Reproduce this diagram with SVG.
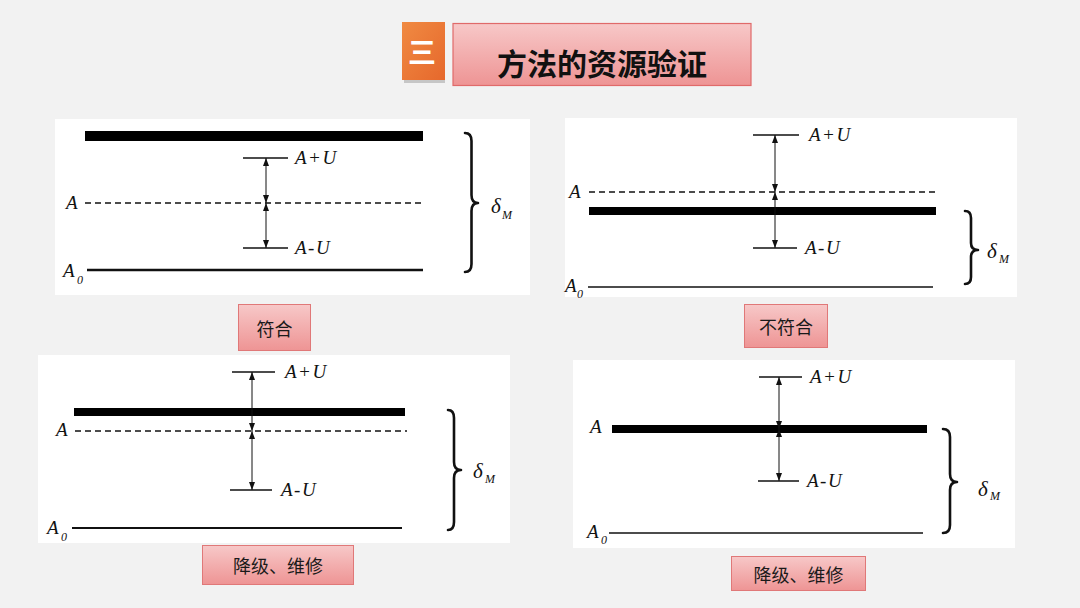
<svg xmlns="http://www.w3.org/2000/svg" width="1080" height="608" viewBox="0 0 1080 608">
<style>
.math{font-family:"Liberation Serif","Times New Roman",serif;font-style:italic;fill:#111;}
.big{font-size:19px;letter-spacing:1.5px;}
.sub{font-size:12px;}
.delta{font-size:21px;}
.cn{font-family:"Noto Sans CJK SC","Noto Sans",sans-serif;font-size:18px;fill:#1a1a1a;text-anchor:middle;dominant-baseline:central;}
.panel{fill:#ffffff;}
.tick{stroke:#111;stroke-width:1.6;}
.dash{stroke:#111;stroke-width:1.6;stroke-dasharray:6 4;fill:none;}
.arr{stroke:#111;stroke-width:1;marker-start:url(#ah);marker-end:url(#ah);}
.brace{fill:none;stroke:#111;stroke-width:2.6;stroke-linecap:round;stroke-linejoin:round;}
.lbl{fill:url(#pink);stroke:#e07878;stroke-width:1;}
</style>
<defs>
<linearGradient id="pink" x1="0" y1="0" x2="0" y2="1">
<stop offset="0" stop-color="#f7c8c8"/>
<stop offset="1" stop-color="#ee9494"/>
</linearGradient>
<linearGradient id="orange" x1="0" y1="0" x2="1" y2="1">
<stop offset="0" stop-color="#f08a42"/>
<stop offset="1" stop-color="#e6682c"/>
</linearGradient>
<marker id="ah" viewBox="0 0 8 6" refX="8" refY="3" markerWidth="8" markerHeight="6" markerUnits="userSpaceOnUse" orient="auto-start-reverse">
<path d="M0,0 L8,3 L0,6 z" fill="#111"/>
</marker>
</defs>
<rect x="0" y="0" width="1080" height="608" fill="#f2f2f2"/>

<g id="title">
<rect x="404" y="78" width="41" height="5" fill="#9a9a9a" opacity="0.5"/>
<rect x="402" y="22" width="43" height="58" fill="url(#orange)"/>
<text x="422" y="51" font-family="Noto Sans CJK SC,sans-serif" font-size="28" font-weight="bold" fill="#ffffff" text-anchor="middle" dominant-baseline="central">三</text>
<rect x="453" y="23.5" width="298" height="62" fill="url(#pink)" stroke="#e06a6a" stroke-width="1.2"/>
<text x="602" y="62" font-family="Noto Sans CJK SC,sans-serif" font-size="30" font-weight="bold" fill="#111" text-anchor="middle" dominant-baseline="central">方法的资源验证</text>
</g>

<g id="panel1">
<rect class="panel" x="55" y="119" width="475" height="176"/>
<rect x="85" y="131" width="338" height="10" fill="#000"/>
<line class="tick" x1="243" y1="158" x2="288" y2="158"/>
<line class="dash" x1="85" y1="203" x2="425" y2="203"/>
<line class="tick" x1="243" y1="248" x2="288" y2="248"/>
<line x1="87" y1="270" x2="423" y2="270" stroke="#111" stroke-width="2.6"/>
<text class="math big" x="295" y="164">A+U</text>
<text class="math big" x="295" y="254">A-U</text>
<text class="math big" x="66" y="209">A</text>
<text class="math big" x="63" y="277">A</text>
<text class="math sub" x="77" y="284">0</text>
<path class="brace" d="M465,133 Q471.5,133 471.5,141 L471.5,195 Q471.5,203 478,203 Q471.5,203 471.5,211 L471.5,264 Q471.5,272 465,272"/>
<text class="math delta" x="491" y="213">δ</text>
<text class="math sub" x="502" y="219">M</text>
</g>

<g id="panel2">
<rect class="panel" x="565" y="118" width="452" height="179"/>
<line class="tick" x1="753" y1="135" x2="799" y2="135"/>
<line class="dash" x1="589" y1="192" x2="937" y2="192"/>
<rect x="589" y="207" width="347" height="8" fill="#000"/>
<line class="tick" x1="753" y1="248" x2="797" y2="248"/>
<line x1="588" y1="287" x2="933" y2="287" stroke="#111" stroke-width="1.5"/>
<text class="math big" x="809" y="141">A+U</text>
<text class="math big" x="805" y="254">A-U</text>
<text class="math big" x="569" y="198">A</text>
<text class="math big" x="565" y="292">A</text>
<text class="math sub" x="577" y="298">0</text>
<path class="brace" d="M965,211 Q971,211 971,218 L971,243 Q971,250 978,250 Q971,250 971,257 L971,277 Q971,284 965,284"/>
<text class="math delta" x="987" y="258">δ</text>
<text class="math sub" x="999" y="263">M</text>
</g>

<g id="panel3">
<rect class="panel" x="38" y="355" width="472" height="188"/>
<line class="tick" x1="232" y1="372" x2="275" y2="372"/>
<rect x="74" y="408" width="331" height="8" fill="#000"/>
<line class="dash" x1="75" y1="431" x2="407" y2="431"/>
<line class="tick" x1="230" y1="490" x2="272" y2="490"/>
<line x1="72" y1="528" x2="402" y2="528" stroke="#111" stroke-width="2"/>
<text class="math big" x="285" y="378">A+U</text>
<text class="math big" x="281" y="496">A-U</text>
<text class="math big" x="56" y="436">A</text>
<text class="math big" x="47" y="534">A</text>
<text class="math sub" x="61" y="541">0</text>
<path class="brace" d="M448,410 Q454,410 454,418 L454,462 Q454,470 461,470 Q454,470 454,478 L454,522 Q454,530 448,530"/>
<text class="math delta" x="473" y="478">δ</text>
<text class="math sub" x="485" y="483">M</text>
</g>

<g id="panel4">
<rect class="panel" x="573" y="360" width="442" height="188"/>
<line class="tick" x1="759" y1="377" x2="802" y2="377"/>
<rect x="612" y="425" width="315" height="8" fill="#000"/>
<line class="tick" x1="758" y1="481" x2="799" y2="481"/>
<line x1="609" y1="533" x2="923" y2="533" stroke="#111" stroke-width="1.5"/>
<text class="math big" x="810" y="383">A+U</text>
<text class="math big" x="807" y="487">A-U</text>
<text class="math big" x="590" y="433">A</text>
<text class="math big" x="587" y="538">A</text>
<text class="math sub" x="601" y="544">0</text>
<path class="brace" d="M943,429 Q950,429 950,437 L950,474 Q950,482 957,482 Q950,482 950,490 L950,525 Q950,533 943,533"/>
<text class="math delta" x="978" y="496">δ</text>
<text class="math sub" x="990" y="500">M</text>
</g>

<g id="connectors">
<line class="arr" x1="266" y1="158" x2="266" y2="203"/>
<line class="arr" x1="266" y1="203" x2="266" y2="248"/>
<line class="arr" x1="775" y1="135" x2="775" y2="192"/>
<line class="arr" x1="775" y1="192" x2="775" y2="248"/>
<line class="arr" x1="252" y1="372" x2="252" y2="431"/>
<line class="arr" x1="252" y1="431" x2="252" y2="490"/>
<line class="arr" x1="779" y1="377" x2="779" y2="429"/>
<line class="arr" x1="779" y1="429" x2="779" y2="481"/>
</g>

<g id="label1">
<rect class="lbl" x="238.5" y="304.5" width="72" height="46"/>
<text class="cn" x="274.5" y="327.5">符合</text>
</g>
<g id="label2">
<rect class="lbl" x="744.5" y="304.5" width="83" height="43"/>
<text class="cn" x="786" y="326">不符合</text>
</g>
<g id="label3">
<rect class="lbl" x="202.5" y="545.5" width="151" height="39"/>
<text class="cn" x="278" y="565">降级、维修</text>
</g>
<g id="label4">
<rect class="lbl" x="731.5" y="556.5" width="134" height="34"/>
<text class="cn" x="798.5" y="574">降级、维修</text>
</g>
</svg>
